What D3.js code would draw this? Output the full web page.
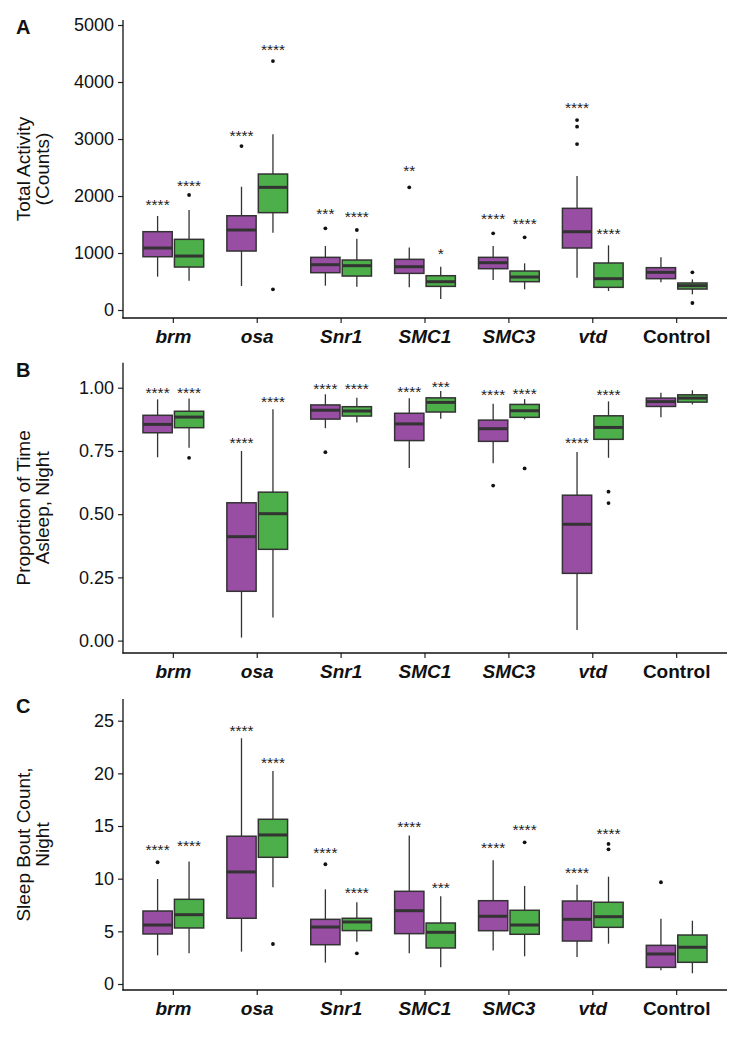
<!DOCTYPE html>
<html>
<head>
<meta charset="utf-8">
<script src="https://cdn.jsdelivr.net/npm/d3@7"></script>
<style>
  html, body { margin: 0; padding: 0; background: #ffffff; }
  svg { display: block; }
  text { font-family: "Liberation Sans", Arial, sans-serif; }
</style>
</head>
<body>
<script>
// ---------------- DATA ----------------
const categories = ["brm", "osa", "Snr1", "SMC1", "SMC3", "vtd", "Control"];
const italicCategories = ["brm", "osa", "Snr1", "SMC1", "SMC3", "vtd"];
const seriesNames = ["purple", "green"];

// box stats: [lower whisker, Q1, median, Q3, upper whisker]
const activityPurple = [[585,935,1088,1374,1649],[421,1035,1404,1654,2163],[427,655,795,924,1123],[398,643,760,889,1099],[526,725,830,924,1123],[567,1088,1374,1784,2351],[485,550,661,743,924]];
const activityGreen = [[514,754,947,1240,1754],[1357,1708,2152,2386,3082],[409,596,778,877,1251],[193,415,497,602,760],[363,497,579,684,819],[333,398,550,825,1135],[275,368,427,474,538]];
const activityPurpleOutliers = [[],[2877],[1433],[2152],[1345],[3333,3216,2912],[]];
const activityGreenOutliers = [[2018],[4368,363],[1404],[],[1275],[],[661,123]];
const activityPurpleSig = ["****","****","***","**","****","****",""];
const activityPurpleSigY = [1912,3117,1743,2497,1667,3608,null];
const activityGreenSig = ["****","****","****","*","****","****",""];
const activityGreenSigY = [2251,4632,1696,1041,1579,1404,null];
const activityTicks = [0, 1000, 2000, 3000, 4000, 5000];
const activityTickLabels = ["0", "1000", "2000", "3000", "4000", "5000"];
const activityDomain = [-140, 5088];

const sleepPurple = [[0.725,0.822,0.855,0.891,0.954],[0.012,0.195,0.411,0.545,0.750],[0.840,0.876,0.911,0.932,0.974],[0.683,0.791,0.857,0.899,0.958],[0.701,0.788,0.838,0.872,0.937],[0.042,0.266,0.460,0.575,0.746],[0.883,0.926,0.945,0.959,0.980]];
const sleepGreen = [[0.763,0.842,0.884,0.907,0.957],[0.091,0.361,0.502,0.587,0.915],[0.863,0.888,0.908,0.925,0.960],[0.877,0.904,0.942,0.960,0.987],[0.875,0.883,0.909,0.934,0.955],[0.723,0.796,0.843,0.889,0.946],[0.934,0.943,0.959,0.972,0.990]];
const sleepPurpleOutliers = [[],[],[0.745],[],[0.613],[],[]];
const sleepGreenOutliers = [[0.723],[],[],[],[0.681],[0.589,0.544],[]];
const sleepPurpleSig = ["****","****","****","****","****","****",""];
const sleepPurpleSigY = [0.996,0.798,1.011,0.999,0.988,0.796,null];
const sleepGreenSig = ["****","****","****","***","****","****",""];
const sleepGreenSigY = [0.996,0.960,1.011,1.016,0.992,0.988,null];
const sleepTicks = [0, 0.25, 0.5, 0.75, 1.0];
const sleepTickLabels = ["0.00", "0.25", "0.50", "0.75", "1.00"];
const sleepDomain = [-0.049, 1.099];

const boutPurple = [[2.72,4.75,5.60,6.93,9.97],[3.07,6.24,10.64,14.03,23.33],[2.03,3.73,5.41,6.14,8.99],[2.91,4.78,6.96,8.80,14.09],[3.17,5.06,6.43,7.91,11.75],[2.56,4.08,6.14,7.88,9.43],[1.30,1.58,2.85,3.67,6.20]];
const boutGreen = [[2.91,5.32,6.58,8.04,11.62],[9.18,12.03,14.15,15.64,20.23],[4.02,5.07,5.89,6.24,7.76],[1.58,3.42,4.91,5.79,8.33],[2.63,4.72,5.60,7.00,9.31],[3.83,5.38,6.39,7.76,10.19],[1.02,2.06,3.49,4.65,6.01]];
const boutPurpleOutliers = [[11.56],[],[11.37],[],[],[],[9.66]];
const boutGreenOutliers = [[],[3.80],[2.91],[],[13.45],[13.30,12.79],[]];
const boutPurpleSig = ["****","****","****","****","****","****",""];
const boutPurpleSigY = [13.1,24.34,12.82,15.26,13.26,10.89,null];
const boutGreenSig = ["****","****","****","***","****","****",""];
const boutGreenSigY = [13.45,21.37,9.0,9.43,14.97,14.62,null];
const boutTicks = [0, 5, 10, 15, 20, 25];
const boutTickLabels = ["0", "5", "10", "15", "20", "25"];
const boutDomain = [-0.57, 27.06];

const panelLetters = ["A", "B", "C"];
const panelTitles = [["Total Activity", "(Counts)"], ["Proportion of Time", "Asleep, Night"], ["Sleep Bout Count,", "Night"]];

// ---------------- LAYOUT / STYLE ----------------
const W = 738, H = 1050;
const colors = { purple: "#984ea3", green: "#4daf4a" };
const ink = "#333333";
const plotLeft = 123, plotRight = 727;
const panelFrames = [
  { top: 20, bottom: 318 },
  { top: 362.7, bottom: 653 },
  { top: 699, bottom: 990 }
];

const svg = d3.select("body").append("svg")
  .attr("width", W).attr("height", H)
  .attr("viewBox", `0 0 ${W} ${H}`);
svg.append("rect").attr("width", W).attr("height", H).attr("fill", "#fff");

const x = d3.scaleBand().domain(categories).range([plotLeft, plotRight])
  .paddingInner(0).paddingOuter(0.1);
const x1 = d3.scaleBand().domain(seriesNames)
  .range([-0.375 * x.bandwidth(), 0.375 * x.bandwidth()]).paddingInner(0);
const boxW = x1.bandwidth() * 0.93;

const panels = [
  { domain: activityDomain, ticks: activityTicks, tickLabels: activityTickLabels,
    series: { purple: activityPurple, green: activityGreen },
    outliers: { purple: activityPurpleOutliers, green: activityGreenOutliers },
    sig: { purple: activityPurpleSig, green: activityGreenSig },
    sigY: { purple: activityPurpleSigY, green: activityGreenSigY } },
  { domain: sleepDomain, ticks: sleepTicks, tickLabels: sleepTickLabels,
    series: { purple: sleepPurple, green: sleepGreen },
    outliers: { purple: sleepPurpleOutliers, green: sleepGreenOutliers },
    sig: { purple: sleepPurpleSig, green: sleepGreenSig },
    sigY: { purple: sleepPurpleSigY, green: sleepGreenSigY } },
  { domain: boutDomain, ticks: boutTicks, tickLabels: boutTickLabels,
    series: { purple: boutPurple, green: boutGreen },
    outliers: { purple: boutPurpleOutliers, green: boutGreenOutliers },
    sig: { purple: boutPurpleSig, green: boutGreenSig },
    sigY: { purple: boutPurpleSigY, green: boutGreenSigY } }
];

panels.forEach((p, pi) => {
  const fr = panelFrames[pi];
  const y = d3.scaleLinear().domain(p.domain).range([fr.bottom, fr.top]);
  const g = svg.append("g");

  // boxes
  seriesNames.forEach(s => {
    categories.forEach((c, ci) => {
      const st = p.series[s][ci];
      const cx = x(c) + x.bandwidth() / 2 + x1(s) + x1.bandwidth() / 2;
      const bg = g.append("g");
      // whiskers
      bg.append("line").attr("x1", cx).attr("x2", cx)
        .attr("y1", y(st[3])).attr("y2", y(st[4]))
        .attr("stroke", ink).attr("stroke-width", 1.3);
      bg.append("line").attr("x1", cx).attr("x2", cx)
        .attr("y1", y(st[1])).attr("y2", y(st[0]))
        .attr("stroke", ink).attr("stroke-width", 1.3);
      // box
      bg.append("rect")
        .attr("x", cx - boxW / 2).attr("width", boxW)
        .attr("y", y(st[3])).attr("height", y(st[1]) - y(st[3]))
        .attr("fill", colors[s]).attr("stroke", ink).attr("stroke-width", 1.5);
      // median
      bg.append("line").attr("x1", cx - boxW / 2).attr("x2", cx + boxW / 2)
        .attr("y1", y(st[2])).attr("y2", y(st[2]))
        .attr("stroke", ink).attr("stroke-width", 3);
      // outliers
      p.outliers[s][ci].forEach(v => {
        bg.append("circle").attr("cx", cx).attr("cy", y(v)).attr("r", 1.9).attr("fill", "#111");
      });
      // significance
      const lab = p.sig[s][ci];
      const ly = p.sigY[s][ci];
      if (lab && ly != null) {
        bg.append("text").attr("x", cx).attr("y", y(ly) + 8.8)
          .attr("text-anchor", "middle").attr("font-size", 15.5)
          .attr("fill", "#222").text(lab);
      }
    });
  });

  // y axis
  const yAxis = d3.axisLeft(y).tickValues(p.ticks)
    .tickFormat((d, i) => p.tickLabels[i]).tickSize(5).tickPadding(4);
  const ya = g.append("g").attr("transform", `translate(${plotLeft},0)`).call(yAxis);
  ya.select(".domain").remove();
  ya.append("line").attr("x1", 0).attr("x2", 0).attr("y1", fr.top).attr("y2", fr.bottom + 0.6)
    .attr("stroke", "#111").attr("stroke-width", 1.3);
  ya.selectAll(".tick line").attr("stroke", "#222").attr("stroke-width", 1.2);
  ya.selectAll(".tick text").attr("font-size", 18).attr("fill", "#111")
    .style("font-family", "'Liberation Sans', Arial, sans-serif");

  // x axis
  const xAxis = d3.axisBottom(x).tickSize(5).tickPadding(5);
  const xa = g.append("g").attr("transform", `translate(0,${fr.bottom})`).call(xAxis);
  xa.select(".domain").remove();
  xa.append("line").attr("x1", plotLeft - 0.6).attr("x2", plotRight).attr("y1", 0).attr("y2", 0)
    .attr("stroke", "#111").attr("stroke-width", 1.3);
  xa.selectAll(".tick line").attr("stroke", "#222").attr("stroke-width", 1.2);
  xa.selectAll(".tick text").attr("font-size", 19).attr("font-weight", "bold")
    .attr("fill", "#111").attr("dy", "0.78em")
    .style("font-style", d => italicCategories.includes(d) ? "italic" : "normal")
    .style("font-family", "'Liberation Sans', Arial, sans-serif");

  // y title
  const cy = (fr.top + fr.bottom) / 2;
  const lines = panelTitles[pi];
  [30, 49].forEach((bx, li) => {
    g.append("text").attr("transform", `translate(${bx},${cy}) rotate(-90)`)
      .attr("text-anchor", "middle").attr("font-size", 19).attr("fill", "#111")
      .text(lines[li]);
  });

  // panel letter
  g.append("text").attr("x", 16).attr("y", fr.top + 14)
    .attr("font-size", 20).attr("font-weight", "bold").attr("fill", "#111")
    .text(panelLetters[pi]);
});
</script>
</body>
</html>
